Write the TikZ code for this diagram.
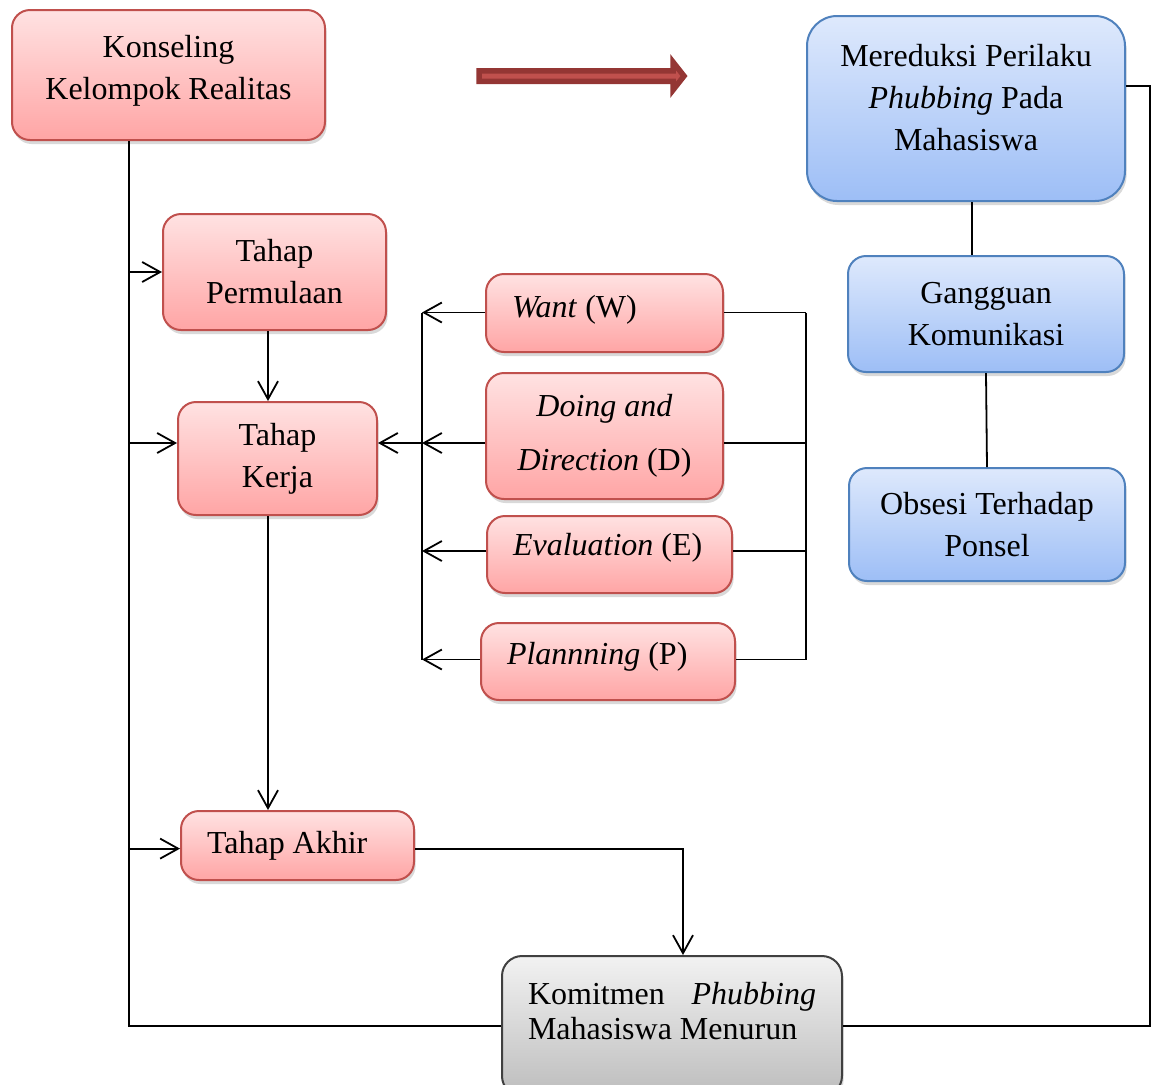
\documentclass[tikz,border=0pt]{standalone}
\usepackage{fontspec}
\setmainfont{Liberation Serif}
\usetikzlibrary{arrows.meta,shadows}
\definecolor{pinktop}{HTML}{FFE2E2}
\definecolor{pinkbot}{HTML}{FFA5A5}
\definecolor{pinkline}{HTML}{C0504D}
\definecolor{bluetop}{HTML}{DEE9FC}
\definecolor{bluebot}{HTML}{9DBEF6}
\definecolor{blueline}{HTML}{4F81BD}
\definecolor{graytop}{HTML}{F2F2F2}
\definecolor{graybot}{HTML}{BDBDBD}
\definecolor{grayline}{HTML}{404040}
\definecolor{arrowdark}{HTML}{943634}
\definecolor{arrowlight}{HTML}{C0504D}
\begin{document}
\begin{tikzpicture}[x=0.5pt,y=-0.5pt,line width=0.9pt,
    >={Straight Barb[length=9pt,width=10pt]},
    stage/.style={draw=pinkline,line width=1pt,rounded corners=9pt,
      top color=pinktop,bottom color=pinkbot,
      drop shadow={shadow xshift=0.8pt,shadow yshift=-2pt,opacity=0.3},
      font=\fontsize{16}{21}\selectfont,align=center,inner sep=0pt},
    wdep/.style={stage,align=flush left,inner xsep=13pt},
    goal/.style={stage,draw=blueline,top color=bluetop,bottom color=bluebot},
    result/.style={stage,draw=grayline,top color=graytop,bottom color=graybot,
      align=flush left,inner xsep=13pt,rounded corners=10pt},
    bigarrow/.style={draw=arrowdark,fill=arrowlight,line width=2.75pt,line join=miter}]
    \useasboundingbox (0,0) rectangle (1152,1084);

    % Stages of the group counselling
    \node[stage,minimum width=156.5pt,minimum height=65pt,text depth=7.5pt] (konseling) at (168.5,75) {Konseling\\Kelompok Realitas};
    \node[stage,minimum width=111.5pt,minimum height=58pt] (permulaan) at (274.5,272) {Tahap\\Permulaan};
    \node[stage,minimum width=99.5pt,minimum height=56.5pt] (kerja) at (277.5,458.5) {Tahap\\Kerja};
    \node[wdep,text width=90.5pt,minimum height=34.5pt] (akhir) at (297.5,845.5) {Tahap Akhir};

    % WDEP boxes
    \node[wdep,text width=92.5pt,minimum height=39pt,text depth=7pt] (want) at (604.5,313) {\textit{Want} (W)};
    \node[stage,minimum width=118.5pt,minimum height=63pt] (doing) at (604.5,436) {\textit{Doing and}\\[6pt]\textit{Direction} (D)};
    \node[wdep,text width=96.5pt,minimum height=38.5pt,text depth=10pt] (evaluation) at (609.5,554.5) {\textit{Evaluation} (E)};
    \node[wdep,text width=101pt,minimum height=38.5pt,text depth=8.5pt] (plannning) at (608,661.5) {\textit{Plannning} (P)};

    % Goal and result
    \node[goal,rounded corners=15pt,minimum width=159pt,minimum height=92.5pt,text depth=11pt] (mereduksi) at (966,108.5) {Mereduksi Perilaku\\\textit{Phubbing} Pada\\Mahasiswa};
    \node[goal,minimum width=138pt,minimum height=58pt] (gangguan) at (986,314) {Gangguan\\Komunikasi};
    \node[goal,minimum width=138pt,minimum height=56.5pt] (obsesi) at (987,524.5) {Obsesi Terhadap\\Ponsel};
    \node[result,text width=144pt,minimum height=70pt,text depth=33pt] (komitmen) at (672,1026) {Komitmen\hspace{0pt plus 1filll}\textit{Phubbing}\\[-3.5pt]Mahasiswa Menurun};

    % Helper points for the rails
    \coordinate (lrail) at (129,1026);
    \coordinate (wbus) at (422,443);
    \coordinate (rbus) at (806,443);
    \coordinate (kx) at (268,0);
    \coordinate (cx) at (683,0);
    \coordinate (rr) at (1150,86);
    \coordinate (gx) at (972,0);

    % Left rail
    \draw (konseling.south -| lrail) -- (lrail) -- (komitmen.west);
    \draw[->] (lrail |- permulaan.west) -- (permulaan.west);
    \draw[->] (lrail |- wbus) -- (kerja.west |- wbus);
    \draw[->] (lrail |- akhir.mid west) -- (akhir.mid west);

    % Stage to stage
    \draw[->] (permulaan.south -| kx) -- (kerja.north -| kx);
    \draw[->] (kerja.south -| kx) -- (akhir.north -| kx);
    \draw[->] (akhir.mid east) -| (komitmen.north -| cx);

    % WDEP into Tahap Kerja
    \draw (wbus |- want.mid west) -- (wbus |- plannning.mid west);
    \draw[->] (wbus) -- (kerja.east |- wbus);
    \foreach \n in {want,evaluation,plannning}
      \draw[->] (\n.mid west) -- (wbus |- \n.mid west);
    \draw[->] (doing.west |- wbus) -- (wbus);

    % Right bus of WDEP
    \draw (rbus |- want.mid east) -- (rbus |- plannning.mid east);
    \foreach \n in {want,evaluation,plannning}
      \draw (\n.mid east) -- (rbus |- \n.mid east);
    \draw (doing.east |- rbus) -- (rbus);

    % Result back to goal
    \draw (komitmen.east) -| (rr) -- (mereduksi.east |- rr);
    \draw (mereduksi.south -| gx) -- (gangguan.north -| gx);
    \draw (gangguan.south) -- (obsesi.north);

    % Big arrow
    \draw[bigarrow] (479,70.75) -- (673,70.75) -- (673,62) -- (684,76) -- (673,90) -- (673,81.25) -- (479,81.25) -- cycle;
\end{tikzpicture}
\end{document}
